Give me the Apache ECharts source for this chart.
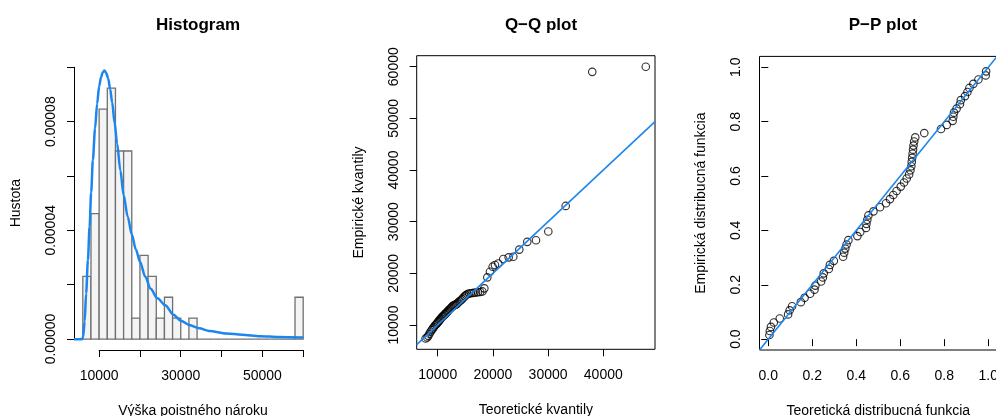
<!DOCTYPE html>
<html lang="sk">
<head>
<meta charset="UTF-8">
<title>Histogram, Q-Q plot, P-P plot</title>
<script src="https://cdn.jsdelivr.net/npm/echarts@6/dist/echarts.min.js"></script>
<style>
  html, body { margin: 0; padding: 0; background: #fff; }
  #main { width: 996px; height: 416px; }
</style>
</head>
<body>
<div id="main"></div>
<script>
// --- histogram: left edges of the bins (width 2000) and their densities
const binStart = [6000, 8000, 10000, 12000, 14000, 16000, 18000, 20000, 22000, 24000,
  26000, 28000, 30000, 32000, 34000, 36000, 38000, 40000, 42000, 44000,
  46000, 48000, 50000, 52000, 54000, 56000, 58000]
const binWidth = 2000
const density = [2.31e-5, 4.62e-5, 8.46e-5, 9.23e-5, 6.92e-5, 6.92e-5, 7.7e-6, 3.08e-5, 2.31e-5, 7.7e-6,
  1.54e-5, 7.7e-6, 0, 7.7e-6, 0, 0, 0, 0, 0, 0,
  0, 0, 0, 0, 0, 0, 1.54e-5]

// fitted density curve
const curveX = [3840, 5800, 6080, 6450, 6810, 7250, 7650, 8050, 8460, 9000, 9510, 10000, 10490,
  10900, 11300, 11700, 12200, 12700, 13200, 13800, 14400, 15200, 16000, 17000, 18000, 19000,
  20000, 21300, 22600, 24300, 26200, 28200, 30000, 32100, 34500, 37000, 41200, 45000, 49400, 54000, 60000]
const curveY = [0, 0, 8e-7, 6.5e-6, 1.68e-5, 2.9e-5, 4.13e-5, 5.4e-5, 6.58e-5, 7.75e-5, 8.66e-5, 9.3e-5, 9.64e-5,
  9.82e-5, 9.88e-5, 9.8e-5, 9.6e-5, 9.2e-5, 8.7e-5, 7.95e-5, 7.2e-5, 6.2e-5, 5.3e-5, 4.5e-5, 3.85e-5, 3.3e-5,
  2.85e-5, 2.3e-5, 1.85e-5, 1.5e-5, 1.25e-5, 9e-6, 6.8e-6, 5.2e-6, 4e-6, 3e-6, 2.1e-6, 1.6e-6, 1.1e-6, 8e-7, 6e-7]

const histXLabels = [10000, 30000, 50000]
const histYLabels = ['0.00000', '0.00004', '0.00008']

// --- Q-Q plot: theoretical vs empirical quantiles
const qqTheor = [7800, 8100, 8300, 8500, 8700, 8900, 9100, 9300, 9500, 9700,
  9850, 10000, 10150, 10300, 10450, 10600, 10750, 10900, 11050, 11200,
  11350, 11500, 11700, 11850, 12000, 12200, 12400, 12550, 12750, 12950,
  13150, 13350, 13550, 13750, 13950, 14200, 14400, 14650, 14900, 15150,
  15400, 15700, 16000, 16300, 16600, 16950, 17300, 17700, 18100, 18450,
  18990, 19470, 19960, 20380, 20980, 21880, 22860, 23700, 24780, 26230,
  27810, 30040, 33190, 38000, 47700]
const qqEmp = [7400, 7600, 7900, 8300, 8700, 9000, 9300, 9600, 9900, 10100,
  10300, 10500, 10700, 10900, 11100, 11300, 11500, 11700, 11800, 12000,
  12100, 12300, 12500, 12700, 12900, 13100, 13300, 13500, 13700, 13800,
  13900, 14000, 14200, 14400, 14600, 14800, 15000, 15300, 15600, 15800,
  16000, 16100, 16150, 16200, 16250, 16300, 16350, 16400, 16500, 17100,
  19230, 20320, 21290, 21610, 21900, 22770, 23100, 23220, 24600, 26100,
  26400, 28100, 33050, 59000, 60000]
const qqLine = [6196, 49370]
const qqXTicks = [10000, 20000, 30000, 40000]
const qqYTicks = [10000, 20000, 30000, 40000, 50000, 60000]

// --- P-P plot: theoretical vs empirical distribution function
const ppTheor = [0.005, 0.007, 0.012, 0.025, 0.052, 0.090, 0.097, 0.108, 0.148, 0.165,
  0.190, 0.210, 0.214, 0.240, 0.248, 0.252, 0.275, 0.280, 0.298, 0.340,
  0.345, 0.350, 0.356, 0.364, 0.405, 0.418, 0.444, 0.446, 0.450, 0.455,
  0.478, 0.508, 0.535, 0.553, 0.568, 0.583, 0.602, 0.617, 0.629, 0.640,
  0.646, 0.650, 0.652, 0.654, 0.656, 0.658, 0.660, 0.663, 0.668, 0.709,
  0.785, 0.811, 0.838, 0.841, 0.844, 0.856, 0.871, 0.875, 0.894, 0.905,
  0.914, 0.932, 0.955, 0.988, 0.990]
const ppEmp = [0.015, 0.030, 0.045, 0.061, 0.076, 0.091, 0.106, 0.121, 0.136, 0.152,
  0.167, 0.182, 0.197, 0.212, 0.227, 0.242, 0.258, 0.273, 0.288, 0.303,
  0.318, 0.333, 0.348, 0.364, 0.379, 0.394, 0.409, 0.424, 0.439, 0.455,
  0.470, 0.485, 0.500, 0.515, 0.530, 0.545, 0.561, 0.576, 0.591, 0.606,
  0.621, 0.636, 0.652, 0.667, 0.682, 0.697, 0.712, 0.727, 0.742, 0.758,
  0.773, 0.788, 0.803, 0.818, 0.833, 0.848, 0.864, 0.879, 0.894, 0.909,
  0.924, 0.939, 0.955, 0.970, 0.985]
const ppLine = [-0.04, 1.04]
const ppTicks = [0, 0.2, 0.4, 0.6, 0.8, 1]

const FONT = '"Liberation Sans", Arial, Helvetica, sans-serif'
const BLUE = '#1C86EE'
const FS = 14

function zip(a, b) {
    return a.map((v, i) => [v, b[i]])
}

const nameStyle = { color: '#000', fontSize: FS, fontFamily: FONT }
const labelStyle = { color: '#000', fontSize: FS, fontFamily: FONT }
const tick = { show: true, length: 7, lineStyle: { color: '#000', width: 1 } }
const hidden = { show: false }
const circle = { color: 'rgba(0,0,0,0)', borderColor: '#000', borderWidth: 1.15 }

function titleOf(text, x) {
    return {
        text: text, left: x, top: 12, textAlign: 'center',
        textStyle: { color: '#000', fontSize: 17, fontWeight: 'bold', fontFamily: FONT }
    }
}

// grids are placed by hand, labels may sit outside the canvas
function gridAt(left, top, width, height, boxed) {
    const g = { left: left, top: top, width: width, height: height, containLabel: false, outerBoundsMode: 'none' }
    if (boxed) {
        g.show = true
        g.borderColor = '#000'
        g.borderWidth = 1
    }
    return g
}

const chart = echarts.init(document.getElementById('main'), null, { renderer: 'canvas' })

const option = {
    animation: false,
    backgroundColor: '#fff',
    title: [titleOf('Histogram', 193), titleOf('Q\u2212Q plot', 536), titleOf('P\u2212P plot', 878)],
    grid: [
        gridAt(74, 56.4, 238, 293.6),           // histogram data
        gridAt(99.1, 56.4, 204.1, 293.6),       // histogram x axis
        gridAt(74, 67.3, 238, 271.7),           // histogram y axis
        gridAt(416.7, 55.7, 238.3, 293.6, true),
        gridAt(759.5, 56.4, 237.6, 293.6, true)
    ],
    xAxis: [
        {
            gridIndex: 0, type: 'value', min: 3840, max: 62160,
            axisLine: hidden, axisTick: hidden, axisLabel: hidden, splitLine: hidden,
            name: 'Výška poistného nároku', nameLocation: 'middle', nameGap: 54, nameTextStyle: nameStyle
        },
        {
            gridIndex: 1, type: 'value', min: 10000, max: 60000, interval: 10000,
            axisLine: { show: true, lineStyle: { color: '#000', width: 1 } },
            axisTick: tick, splitLine: hidden,
            axisLabel: Object.assign({
                margin: 19,
                formatter: v => histXLabels.indexOf(v) >= 0 ? String(v) : ''
            }, labelStyle)
        },
        { gridIndex: 2, type: 'value', min: 0, max: 1, show: false },
        {
            gridIndex: 3, type: 'value', min: 6196, max: 49370,
            axisLine: hidden, splitLine: hidden,
            axisTick: Object.assign({ customValues: qqXTicks }, tick),
            axisLabel: Object.assign({ customValues: qqXTicks, margin: 19, formatter: v => String(v) }, labelStyle),
            name: 'Teoretické kvantily', nameLocation: 'middle', nameGap: 54, nameTextStyle: nameStyle
        },
        {
            gridIndex: 4, type: 'value', min: -0.04, max: 1.04,
            axisLine: hidden, splitLine: hidden,
            axisTick: Object.assign({ customValues: ppTicks }, tick),
            axisLabel: Object.assign({ customValues: ppTicks, margin: 19, formatter: v => v.toFixed(1) }, labelStyle),
            name: 'Teoretická distribucná funkcia', nameLocation: 'middle', nameGap: 54, nameTextStyle: nameStyle
        }
    ],
    yAxis: [
        {
            gridIndex: 0, type: 'value', min: -4e-6, max: 1.04e-4,
            axisLine: hidden, axisTick: hidden, axisLabel: hidden, splitLine: hidden,
            name: 'Hustota', nameLocation: 'middle', nameGap: 51, nameRotate: 90, nameTextStyle: nameStyle
        },
        { gridIndex: 1, type: 'value', min: 0, max: 1, show: false },
        {
            gridIndex: 2, type: 'value', min: 0, max: 1e-4, interval: 2e-5,
            axisLine: { show: true, lineStyle: { color: '#000', width: 1 } },
            axisTick: tick, splitLine: hidden,
            axisLabel: Object.assign({
                margin: 16, rotate: 90,
                formatter: v => {
                    const s = v.toFixed(5)
                    return histYLabels.indexOf(s) >= 0 ? s : ''
                }
            }, labelStyle)
        },
        {
            gridIndex: 3, type: 'value', min: 5300, max: 62130,
            axisLine: hidden, splitLine: hidden,
            axisTick: Object.assign({ customValues: qqYTicks }, tick),
            axisLabel: Object.assign({ customValues: qqYTicks, margin: 16, rotate: 90, formatter: v => String(v) }, labelStyle),
            name: 'Empirické kvantily', nameLocation: 'middle', nameGap: 51, nameRotate: 90, nameTextStyle: nameStyle
        },
        {
            gridIndex: 4, type: 'value', min: -0.04, max: 1.04,
            axisLine: hidden, splitLine: hidden,
            axisTick: Object.assign({ customValues: ppTicks }, tick),
            axisLabel: Object.assign({ customValues: ppTicks, margin: 16, rotate: 90, formatter: v => v.toFixed(1) }, labelStyle),
            name: 'Empirická distribucná funkcia', nameLocation: 'middle', nameGap: 51, nameRotate: 90, nameTextStyle: nameStyle
        }
    ],
    series: [
        {
            type: 'custom', xAxisIndex: 0, yAxisIndex: 0, silent: true,
            data: binStart.map((s, i) => [s, s + binWidth, density[i]]),
            encode: { x: [0, 1], y: 2 },
            renderItem: function (params, api) {
                const p0 = api.coord([api.value(0), api.value(2)])
                const p1 = api.coord([api.value(1), 0])
                return {
                    type: 'rect',
                    shape: { x: p0[0], y: p0[1], width: p1[0] - p0[0], height: p1[1] - p0[1] },
                    style: { fill: '#f4f4f4', stroke: '#707070', lineWidth: 1.3 }
                }
            }
        },
        {
            type: 'line', xAxisIndex: 0, yAxisIndex: 0, silent: true,
            data: zip(curveX, curveY), showSymbol: false, symbol: 'none',
            smooth: 0.3, smoothMonotone: 'x',
            lineStyle: { color: BLUE, width: 2.5 }, z: 3
        },
        {
            type: 'scatter', xAxisIndex: 3, yAxisIndex: 3, silent: true,
            data: zip(qqTheor, qqEmp), symbol: 'circle', symbolSize: 7.5,
            itemStyle: circle
        },
        {
            type: 'line', xAxisIndex: 3, yAxisIndex: 3, silent: true,
            data: zip(qqLine, qqLine), symbol: 'none',
            lineStyle: { color: BLUE, width: 1.6 }, z: 3
        },
        {
            type: 'scatter', xAxisIndex: 4, yAxisIndex: 4, silent: true,
            data: zip(ppTheor, ppEmp), symbol: 'circle', symbolSize: 7.5,
            itemStyle: circle
        },
        {
            type: 'line', xAxisIndex: 4, yAxisIndex: 4, silent: true,
            data: zip(ppLine, ppLine), symbol: 'none',
            lineStyle: { color: BLUE, width: 1.6 }, z: 3
        }
    ]
}

chart.setOption(option)
</script>
</body>
</html>
